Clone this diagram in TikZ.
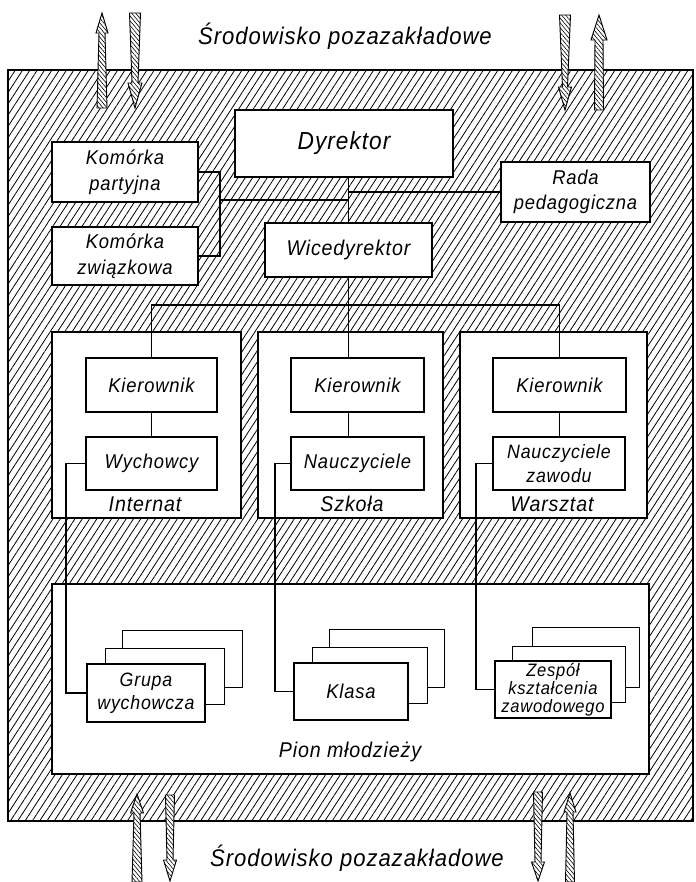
\documentclass[tikz,border=0pt]{standalone}
\usepackage{fontspec}
\setmainfont{Liberation Sans}[FakeStretch=0.92, LetterSpace=4]
\usetikzlibrary{patterns.meta,fit}

\newcommand{\fs}[2]{\fontsize{#1}{#2}\selectfont\itshape}
% up arrow: x, tip y, head base y, tail y, head half width, shaft half width at head, shaft half width at tail
\newcommand{\arrUp}[7]{%
  \path[arrowsty] (#1,#2) -- (#1+#5,#3) -- (#1+#6,#3) -- (#1+#7,#4) -- (#1-#7,#4) -- (#1-#6,#3) -- (#1-#5,#3) -- cycle;}
% down arrow: x, top y, head base y, tip y, head half width, shaft half width at top, shaft half width at head
\newcommand{\arrDown}[7]{%
  \path[arrowsty] (#1-#6,#2) -- (#1+#6,#2) -- (#1+#7,#3) -- (#1+#5,#3) -- (#1,#4) -- (#1-#5,#3) -- (#1-#7,#3) -- cycle;}

\tikzset{
  hatch/.style={pattern={Lines[angle=57,distance=4.6pt,line width=0.6pt]}},
  mainbox/.style={draw, line width=1.5pt, fill=white, inner sep=0pt},
  thinbox/.style={draw, line width=0.8pt, fill=white, inner sep=0pt},
  backbox/.style={draw, line width=0.7pt, fill=white, inner sep=0pt},
  conn/.style={line width=0.8pt},
  arrowsty/.style={draw, line width=0.7pt, preaction={fill=white},
    pattern={Lines[angle=-50,distance=2.3pt,line width=0.45pt]}},
  lbl/.style={inner sep=0pt, anchor=base}
}

\begin{document}
\begin{tikzpicture}[x=0.75pt, y=-0.75pt]
\useasboundingbox (0,0) rectangle (696,882);

% titles
\node[lbl, font=\fs{18}{20}] (t1) at (345,44) {Środowisko pozazakładowe};
\node[lbl, font=\fs{18}{20}] (t2) at (357,866) {Środowisko pozazakładowe};

% hatched outer area
\path[hatch, draw, line width=0.9pt] (8,70) rectangle (693,821);

% department frames
\node[thinbox, fit={(52,332) (241,518)}] (d1) {};
\node[thinbox, fit={(258,332) (443,518)}] (d2) {};
\node[thinbox, fit={(460,332) (647,518)}] (d3) {};
\node[lbl, font=\fs{16}{17}] (l1) at (145,511) {Internat};
\node[lbl, font=\fs{16}{17}] (l2) at (352,511) {Szkoła};
\node[lbl, font=\fs{16}{17}] (l3) at (552,511) {Warsztat};

% Pion
\node[thinbox, fit={(52,584) (649,774)}] (pion) {};
\node[lbl, font=\fs{16}{17}] (lp) at (350,757) {Pion młodzieży};

% stacks
\node[backbox, fit={(122,630) (242,687)}] (g3) {};
\node[backbox, fit={(105,648) (224,704)}] (g2) {};
\node[mainbox, fit={(87,664) (205,722)}, label={[inner sep=0pt, align=center, font=\fs{14.5}{17}]center:{Grupa\\wychowcza}}] (g1) {};
\node[backbox, fit={(329,629) (444,687)}] (c3) {};
\node[backbox, fit={(312,647) (427,703)}] (c2) {};
\node[mainbox, fit={(294,663) (408,720)}, label={[inner sep=0pt, align=center, font=\fs{15}{17}]center:{Klasa}}] (c1) {};
\node[backbox, fit={(532,627) (639,687)}] (z3) {};
\node[backbox, fit={(512,646) (625,702)}] (z2) {};
\node[mainbox, fit={(495,661) (611,718)}, label={[inner sep=0pt, align=center, font=\fs{13.5}{13.5}]center:{Zespół\\kształcenia\\zawodowego}}] (z1) {};

% management boxes
\node[mainbox, fit={(235,110) (453,177)}, label={[inner sep=0pt, font=\fs{18.5}{19}]center:{Dyrektor}}] (dyr) {};
\node[mainbox, fit={(52,142) (198,202)}, label={[inner sep=0pt, align=center, font=\fs{15}{19.5}]center:{Komórka\\partyjna}}] (kp) {};
\node[mainbox, fit={(52,227) (198,285)}, label={[inner sep=0pt, align=center, font=\fs{15}{19.5}]center:{Komórka\\związkowa}}] (kz) {};
\node[mainbox, fit={(501,162) (650,222)}, label={[inner sep=0pt, align=center, font=\fs{15}{19}]center:{Rada\\pedagogiczna}}] (rada) {};
\node[mainbox, fit={(265,223) (432,277)}, label={[inner sep=0pt, font=\fs{16}{17}]center:{Wicedyrektor}}] (wd) {};

% department boxes
\node[mainbox, fit={(86,358) (217,412)}, label={[inner sep=0pt, font=\fs{15}{17}]center:{Kierownik}}] (k1) {};
\node[mainbox, fit={(291,358) (424,412)}, label={[inner sep=0pt, font=\fs{15}{17}]center:{Kierownik}}] (k2) {};
\node[mainbox, fit={(493,358) (626,412)}, label={[inner sep=0pt, font=\fs{15}{17}]center:{Kierownik}}] (k3) {};
\node[mainbox, fit={(86,437) (217,490)}, label={[inner sep=0pt, font=\fs{15}{17}]center:{Wychowcy}}] (w1) {};
\node[mainbox, fit={(291,437) (424,490)}, label={[inner sep=0pt, font=\fs{15}{17}]center:{Nauczyciele}}] (n2) {};
\node[mainbox, fit={(493,437) (625,490)}, label={[inner sep=0pt, align=center, font=\fs{14.5}{17.5}]center:{Nauczyciele\\zawodu}}] (n3) {};

% connectors
\draw[conn] (kp.east) -- ++(21,0) coordinate (br) |- (kz.east);
\coordinate (j1) at (br |- 0,200);
\draw[conn] (j1) -- (j1 -| wd.north);
\draw[conn] (dyr.south -| wd.north) -- (wd.north);
\draw[conn] (wd.north |- rada.west) -- (rada.west);
\coordinate (bus) at (0,305);
\draw[conn] (wd.south) -- (wd.south |- k2.north);
\draw[conn] (k1.north) -- (k1.north |- bus) -- (k3.north |- bus) -- (k3.north);
\draw[conn] (k1.south) -- (w1.north);
\draw[conn] (wd.south |- k2.south) -- (wd.south |- n2.north);
\draw[conn] (k3.south) -- (k3.south |- n3.north);
\draw[conn] (w1.west) -- ++(-19,0) |- (g1.west);
\draw[conn] (n2.west) -- ++(-15,0) |- (c1.west);
\draw[conn] (n3.west) -- ++(-16,0) |- (z1.west);

% exchange arrows
\arrUp{102}{13}{33}{108}{6}{3}{5}
\arrDown{135}{13}{83}{108}{7}{5.5}{3}
\arrDown{565}{15}{87}{110}{6.5}{5.5}{2.5}
\arrUp{599}{15}{40}{110}{8}{4}{4.5}
\arrUp{137}{794}{813}{882}{6.5}{3}{5}
\arrDown{170}{795}{860}{881}{6.5}{4.5}{3}
\arrDown{538}{792}{862}{881}{6.5}{4.5}{3}
\arrUp{570}{793}{812}{882}{6}{3}{4.5}
\end{tikzpicture}
\end{document}
